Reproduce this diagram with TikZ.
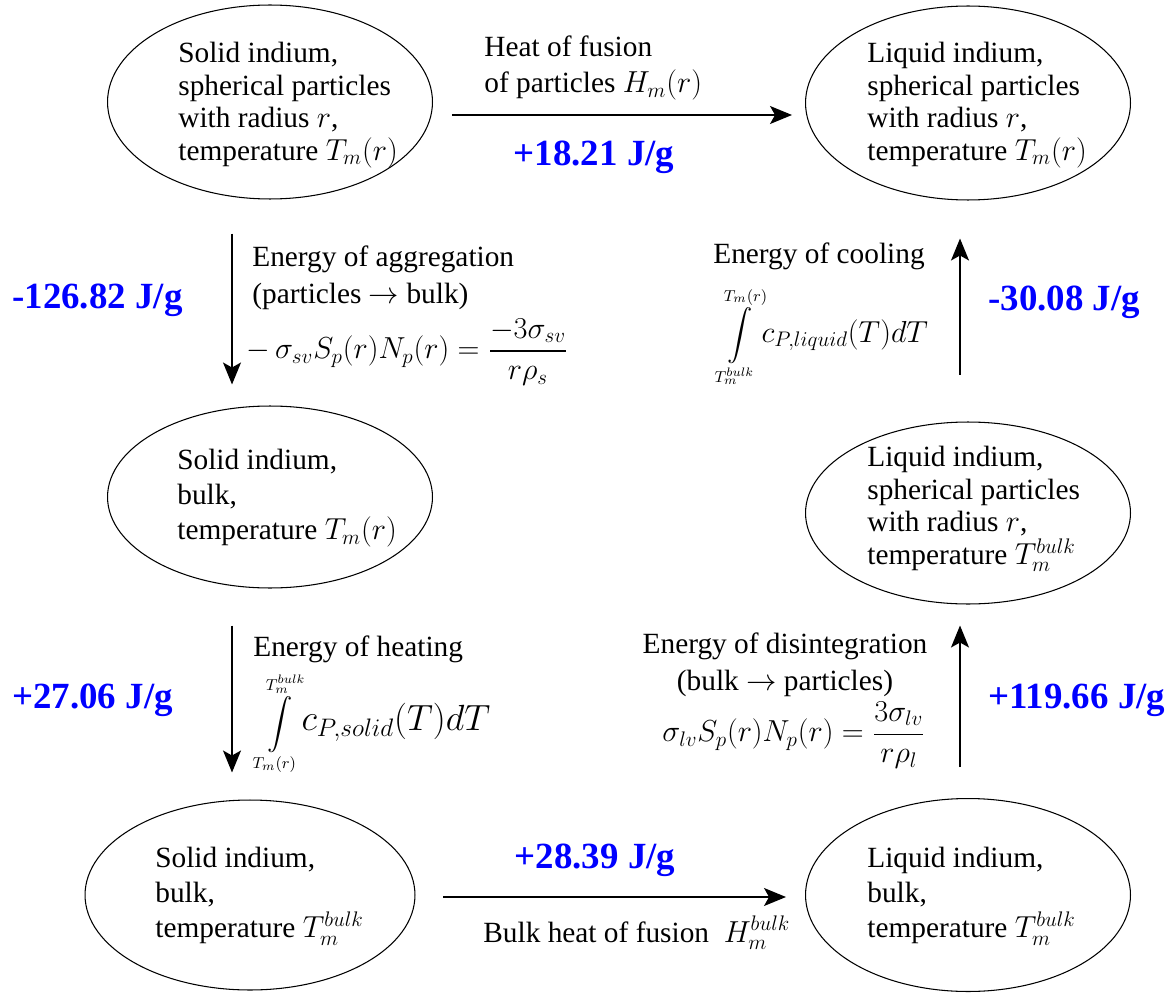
\documentclass[tikz,border=0pt]{standalone}
\usepackage{amsmath}
\usepackage{fontspec}
\setmainfont{Liberation Serif}
\usepackage{tikz}
\usetikzlibrary{arrows.meta,shapes.geometric}
\definecolor{valblue}{RGB}{0,0,255}

\begin{document}
\begin{tikzpicture}[
    x=0.02cm, y=-0.02cm,
    font=\fontsize{16.7}{18.6}\selectfont,
    state/.style={draw, ellipse, line width=0.6pt, inner sep=0pt, minimum width=6.5cm},
    stxt/.style={anchor=west, align=left, inner sep=0pt},
    stxtw/.style={stxt, font=\fontsize{16.7}{20}\selectfont},
    lbl/.style={anchor=base west, align=left, inner sep=0pt,
      font=\fontsize{16.7}{20.5}\selectfont},
    eq/.style={anchor=west, inner sep=0pt, font=\fontsize{13.5}{16}\selectfont},
    val/.style={inner sep=0pt, text=valblue, font=\fontsize{21}{25}\selectfont\bfseries},
    flow/.style={line width=0.8pt, -{Stealth[length=0.44cm,width=0.36cm,inset=0.1cm]}}
  ]
  \useasboundingbox (0,0) rectangle (1176,993);

  \node[state, minimum height=3.88cm] (solidP) at (270,102) {};
  \node[state, minimum height=3.88cm] (liquidP) at (968,103) {};
  \node[state, minimum height=3.64cm] (solidB) at (270,497) {};
  \node[state, minimum height=3.64cm] (liquidPB) at (968,513) {};
  \node[state, minimum height=3.8cm, minimum width=6.6cm] (solidBB) at (250,895) {};
  \node[state, minimum height=3.86cm] (liquidB) at (968,895) {};

  \node[stxt] (solidPtxt) at (178,105) {Solid indium,\\spherical particles\\with radius $r$,\\temperature $T_m(r)$};
  \node[stxt] (liquidPtxt) at (867,105) {Liquid indium,\\spherical particles\\with radius $r$,\\temperature $T_m(r)$};
  \node[stxtw] (solidBtxt) at (177,498) {Solid indium,\\bulk,\\temperature $T_m(r)$};
  \node[stxt] (liquidPBtxt) at (867,509) {Liquid indium,\\spherical particles\\with radius $r$,\\temperature $T_m^{bulk}$};
  \node[stxtw] (solidBBtxt) at (155,896) {Solid indium,\\bulk,\\temperature $T_m^{bulk}$};
  \node[stxtw] (liquidBtxt) at (867,896) {Liquid indium,\\bulk,\\temperature $T_m^{bulk}$};

  \coordinate (aggS) at ([xshift=-0.76cm]solidP.south);
  \coordinate (heatS) at ([xshift=-0.76cm]solidB.south);
  \coordinate (disS) at ([xshift=-0.16cm]liquidB.north);
  \coordinate (coolS) at ([xshift=-0.16cm]liquidPB.north);
  \coordinate (fusS) at ([yshift=-0.26cm]solidP.east);
  \coordinate (bfusS) at ([yshift=-0.04cm]solidBB.east);

  \draw[flow, shorten <=0.38cm, shorten >=0.26cm] (fusS) -- (fusS -| liquidP.west);
  \draw[flow, shorten <=0.68cm, shorten >=0.42cm] (aggS) -- (aggS |- solidB.north);
  \draw[flow, shorten <=0.74cm, shorten >=0.54cm] (heatS) -- (heatS |- solidBB.north);
  \draw[flow, shorten <=0.56cm, shorten >=0.38cm] (bfusS) -- (bfusS -| liquidB.west);
  \draw[flow, shorten <=0.62cm, shorten >=0.42cm] (disS) -- (disS |- liquidPB.south);
  \draw[flow, shorten <=0.94cm, shorten >=0.76cm] (coolS) -- (coolS |- liquidP.south);

  \node[lbl] (fusLbl) at (484,93) {Heat of fusion\\of particles $H_m(r)$};
  \node[lbl] (aggLbl) at (252,303) {Energy of aggregation\\(particles $\to$ bulk)};
  \node[eq, font=\fontsize{16.7}{20}\selectfont] (aggEq) at (246,352) {$-\,\sigma_{sv}S_p(r)N_p(r)=\dfrac{-3\sigma_{sv}}{r\rho_s}$};
  \node[lbl] (heatLbl) at (253,656) {Energy of heating};
  \node[eq] (heatEq) at (258,724) {$\displaystyle\int\limits_{T_m(r)}^{T_m^{bulk}}\!\text{\fontsize{20}{22}\selectfont$c_{P,solid}(T)dT$}$};
  \node[lbl] (coolLbl) at (713,263) {Energy of cooling};
  \node[eq] (coolEq) at (718,337) {$\displaystyle\int\limits_{T_m^{bulk}}^{T_m(r)}\!\text{\fontsize{18}{20}\selectfont$c_{P,liquid}(T)dT$}$};
  \node[lbl, anchor=base, align=center] (disLbl) at (785,690) {Energy of disintegration\\(bulk $\to$ particles)};
  \node[eq, font=\fontsize{16.7}{20}\selectfont] (disEq) at (662,735) {$\sigma_{lv}S_p(r)N_p(r)=\dfrac{3\sigma_{lv}}{r\rho_l}$};
  \node[lbl] (bfusLbl) at (483,942) {Bulk heat of fusion\enspace$H_m^{bulk}$};

  \node[val] (fusVal) at (594,157) {+18.21 J/g};
  \node[val] (bfusVal) at (595,860) {+28.39 J/g};
  \node[val, anchor=west] (aggVal) at (12,300) {-126.82 J/g};
  \node[val, anchor=west] (heatVal) at (12,700) {+27.06 J/g};
  \node[val, anchor=west] (coolVal) at (988,302) {-30.08 J/g};
  \node[val, anchor=west] (disVal) at (988,700) {+119.66 J/g};
\end{tikzpicture}
\end{document}
